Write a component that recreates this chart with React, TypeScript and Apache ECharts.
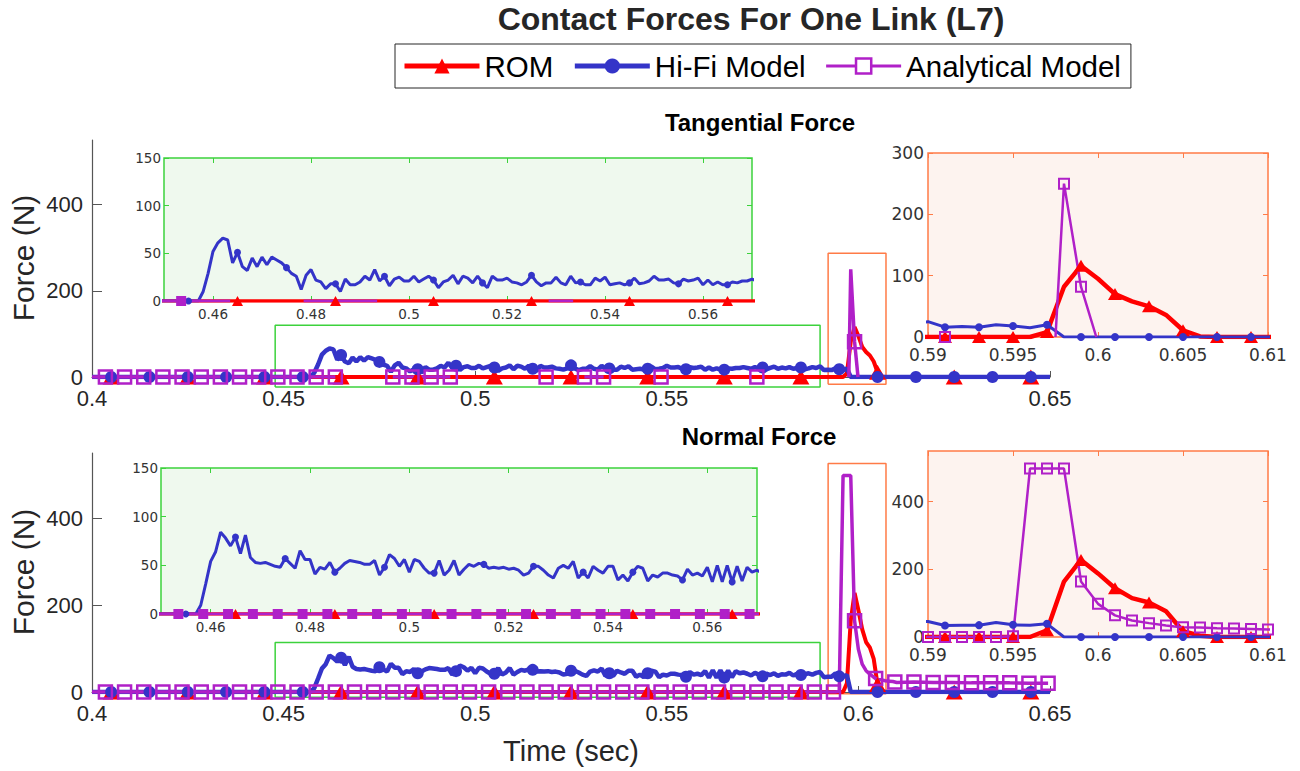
import React, { useEffect, useRef } from "react";
import * as echarts from "echarts";

// ---------- data ----------
// ROM and Hi-Fi samples: t = 0.400 ... 0.650 s every 1 ms (251 samples)
const T0 = 0.4;
const DT = 0.001;
const Z = (n: number): number[] => new Array(n).fill(0);

const HIFI_TAN: number[] = [
  ...Z(58), // 0.400 .. 0.457
  10, 29, 52, 61, 66, 64, 40, 51, 36, 32,
  45, 36, 46, 38, 46, 43, 40, 35, 29, 26,
  12, 27, 33, 22, 20, 13, 18, 18, 10, 23,
  17, 17, 20, 26, 22, 33, 21, 26, 16, 23,
  25, 21, 21, 26, 20, 23, 26, 22, 14, 20,
  22, 27, 18, 26, 24, 19, 26, 19, 14, 26,
  22, 22, 24, 20, 19, 17, 20, 27, 20, 16,
  19, 19, 25, 19, 17, 26, 19, 20, 17, 17,
  24, 21, 25, 17, 18, 19, 17, 19, 24, 18,
  19, 21, 26, 22, 22, 23, 19, 18, 23, 21,
  22, 24, 17, 22, 17, 20, 17, 17, 20, 19,
  21, 21, 23, // .. 0.570
  21, 19, 23, 20, 22, 18, 21, 24, 19, 22, 20, 23, 19, 21, 22, 18, 20, 23, 21, // 0.571 .. 0.589
  25, 16, 17, 16, 20, 18, 15, 20, // 0.590 .. 0.597
  ...Z(53), // 0.598 .. 0.650
];

const HIFI_NOR: number[] = [
  ...Z(58),
  9, 31, 54, 64, 84, 78, 70, 79, 62, 81,
  58, 53, 52, 53, 51, 49, 48, 57, 52, 47,
  65, 56, 56, 41, 48, 46, 53, 43, 47, 52,
  55, 54, 53, 51, 51, 55, 40, 48, 61, 57,
  49, 56, 43, 56, 54, 47, 42, 42, 55, 40,
  45, 55, 40, 46, 51, 49, 52, 51, 47, 48,
  47, 48, 46, 47, 45, 40, 42, 49, 49, 45,
  40, 37, 47, 50, 47, 54, 37, 43, 37, 49,
  45, 42, 49, 49, 35, 40, 34, 43, 49, 47,
  34, 40, 38, 42, 42, 40, 39, 35, 46, 40,
  42, 39, 48, 33, 50, 33, 50, 33, 49, 34,
  48, 43, 45,
  42, 38, 44, 40, 36, 42, 39, 43, 37, 41, 40, 44, 38, 42, 39, 41, 43, 40, 44,
  46, 34, 35, 35, 43, 36, 35, 39,
  ...Z(53),
];

const ROM_TAN: number[] = [...Z(197), 8, 82, 116, 95, 70, 58, 50, 36, 11, 1, ...Z(44)];
const ROM_NOR: number[] = [...Z(197), 20, 164, 228, 188, 144, 115, 102, 76, 17, 4, ...Z(44)];

// Analytical model (irregular time stamps, null = no line)
const ANA_TAN_T = [
  0.4, 0.4035, 0.4085, 0.4135, 0.4185, 0.4235, 0.4285, 0.4335, 0.4385, 0.4435, 0.4485, 0.4535, 0.4585, 0.4635,
  0.47, 0.4785, 0.4835, 0.4885, 0.4935, 0.505, 0.5185, 0.523, 0.5285, 0.5335, 0.54, 0.5485, 0.56, 0.5735, 0.58,
  0.591, 0.595, 0.5975, 0.598, 0.599, 0.5999,
];
const ANA_TAN_V: (number | null)[] = [
  0, 0, 0, 0, 0, 0, 0, 0, 0, 0, 0, 0, 0, 0,
  null, 0, 0, 0, 0, null, 0, null, 0, 0, null, 0, null, 0, null,
  0, null, 0, 250, 82, 0,
];

const ANA_NOR_T = [
  0.4, 0.4035, 0.4085, 0.4135, 0.4185, 0.4235, 0.4285, 0.4335, 0.4385, 0.4435, 0.4485, 0.4535, 0.4585,
  0.4635, 0.4685, 0.4735, 0.4785, 0.4835, 0.4885, 0.4935, 0.4985, 0.5035, 0.5085, 0.5135, 0.5185, 0.5235,
  0.5285, 0.5335, 0.5385, 0.5435, 0.5485, 0.5535, 0.5585, 0.5635, 0.5685, 0.5735, 0.5785, 0.5835, 0.5885,
  0.59, 0.591, 0.592, 0.593, 0.5935, 0.594, 0.595, 0.596, 0.597, 0.598, 0.599, 0.6, 0.601, 0.602, 0.603,
  0.604, 0.6045, 0.605, 0.606, 0.607, 0.608, 0.609, 0.6095, 0.61,
  0.6145, 0.6195, 0.6245, 0.6295, 0.6345, 0.6395, 0.6445, 0.6495,
];
const ANA_NOR_V: number[] = [
  ...Z(39),
  0, 0, 0, 0, 0, 0, 2, 498, 498, 498, 164, 98, 64, 49, 41,
  34, 31, 29, 28, 26, 25, 24, 23, 22,
  23, 22, 22, 21, 21, 21, 20, 20,
];

// ticks
const X_MAIN_TICKS = [0.4, 0.45, 0.5, 0.55, 0.6, 0.65];
const Y_MAIN_TICKS = [0, 200, 400];
const X_ZA_TICKS = [0.46, 0.48, 0.5, 0.52, 0.54, 0.56];
const Y_ZA_TICKS = [0, 50, 100, 150];
const X_ZB_TICKS = [0.59, 0.595, 0.6, 0.605, 0.61];
const Y_ZB_TAN_TICKS = [0, 100, 200, 300];
const Y_ZB_NOR_TICKS = [0, 200, 400];

// zoom-window outlines drawn on the main axes (data coordinates)
const RECT_TAN_A = [[0.4478, -23], [0.59, -23], [0.59, 120], [0.4478, 120], [0.4478, -23]];
const RECT_TAN_B = [[0.5921, -17], [0.6072, -17], [0.6072, 287], [0.5921, 287], [0.5921, -17]];
const RECT_NOR_A = [[0.4478, -12], [0.59, -12], [0.59, 114], [0.4478, 114], [0.4478, -12]];
const RECT_NOR_B = [[0.5921, -4], [0.6072, -4], [0.6072, 526], [0.5921, 526], [0.5921, -4]];

// ---------- styling ----------
const RED = "#ff0000";
const BLUE = "#3434c8";
const PURPLE = "#b020c8";
const GREEN = "#3cd23c";
const GREEN_BG = "#eff9ee";
const ORANGE = "#ff7b47";
const ORANGE_BG = "#fdf3ef";
const TXT = "#262626";
const AXIS = "#555555";
const FONT = '"Liberation Sans", Arial, Helvetica, sans-serif';
const FONT_IN = '"DejaVu Sans", Verdana, sans-serif';

const key = (t: number) => Math.round(t * 10000);
const gridT = (n: number) => Array.from({ length: n }, (_, i) => Math.round((T0 + i * DT) * 1000) / 1000);
const fmt = (v: number) => String(+Number(v).toFixed(4));

type Mark = (k: number) => boolean;
function pts(ts: number[], vs: (number | null)[], mark: Mark) {
  return ts.map((t, i) => {
    const v = vs[i];
    if (v === null || v === undefined) return { value: [t, "-"], symbol: "none" };
    return mark(key(t)) ? { value: [t, v] } : { value: [t, v], symbol: "none" };
  });
}

const romMarkMain: Mark = (k) => k % 200 === 50;
const hifiMarkMain: Mark = (k) => k % 100 === 50;
const oddMs: Mark = (k) => k % 20 === 10;
const anaTanMain: Mark = (k) => k % 50 === 35 || k === 5990;
const anaTanA: Mark = (k) => k === 4535;
const anaTanB: Mark = (k) => k === 5910 || k === 5980 || k === 5990;
const anaNorMain: Mark = (k) => k % 50 === 35 || k === 5990 || (k > 6000 && k % 50 === 45);
const anaNorA: Mark = (k) => k % 50 === 35;
const anaNorB: Mark = (k) => k % 10 === 0;

type Sty = { rom: [number, any]; hifi: [number, number]; ana: [number, number, number, string] };
const CLEAR = "rgba(255,255,255,0)";
const ST_MAIN: Sty = { rom: [4, [17, 15]], hifi: [4.5, 12], ana: [3.5, 13, 2.5, CLEAR] };
const ST_A: Sty = { rom: [3.5, [11, 10]], hifi: [3, 7], ana: [3, 8, 2, PURPLE] };
const ST_B: Sty = { rom: [4.5, [14, 12]], hifi: [3, 8], ana: [2.5, 10, 2, CLEAR] };

function trio(grid: number, st: Sty, rom: number[], hifi: number[], anaT: number[], anaV: (number | null)[],
  mRom: Mark, mHifi: Mark, mAna: Mark) {
  const gt = gridT(rom.length);
  const base = { type: "line", xAxisIndex: grid, yAxisIndex: grid, silent: true, showSymbol: true, showAllSymbol: true, z: 3, animation: false };
  return [
    { ...base, name: "ROM", data: pts(gt, rom, mRom), symbol: "triangle", symbolSize: st.rom[1],
      lineStyle: { color: RED, width: st.rom[0] }, itemStyle: { color: RED } },
    { ...base, name: "Hi-Fi Model", data: pts(gt, hifi, mHifi), symbol: "circle", symbolSize: st.hifi[1],
      lineStyle: { color: BLUE, width: st.hifi[0] }, itemStyle: { color: BLUE } },
    { ...base, name: "Analytical Model", data: pts(anaT, anaV, mAna), symbol: "rect", symbolSize: st.ana[1],
      lineStyle: { color: PURPLE, width: st.ana[0] },
      itemStyle: { color: st.ana[3], borderColor: PURPLE, borderWidth: st.ana[2] } },
  ];
}

function rectSeries(grid: number, data: number[][], color: string) {
  return { type: "line", name: "zoom-window", xAxisIndex: grid, yAxisIndex: grid, data, clip: false, symbol: "none",
    silent: true, z: 2, lineStyle: { color, width: 1.5 } };
}

function xAx(grid: number, min: number, max: number, ticks: number[], o: any) {
  return {
    type: "value", gridIndex: grid, min, max, position: o.position || "bottom",
    axisLine: { show: !!o.line, onZero: false, lineStyle: { color: AXIS, width: 1.2 } },
    axisTick: { show: true, inside: true, length: o.tickLen ?? 6, customValues: ticks, lineStyle: { color: o.tickColor || AXIS, width: 1 } },
    axisLabel: { show: o.label !== false, customValues: ticks, fontSize: o.fs, fontFamily: o.ff, color: o.lc || TXT, margin: o.xmargin ?? 8, formatter: fmt, hideOverlap: false },
    splitLine: { show: false },
  };
}
function yAx(grid: number, min: number, max: number, ticks: number[], o: any) {
  return {
    type: "value", gridIndex: grid, min, max, position: o.position || "left",
    axisLine: { show: !!o.line, onZero: false, lineStyle: { color: AXIS, width: 1.2 } },
    axisTick: { show: true, inside: true, length: o.tickLen ?? 6, customValues: ticks, lineStyle: { color: o.tickColor || AXIS, width: 1 } },
    axisLabel: { show: o.label !== false, customValues: ticks, fontSize: o.fs, fontFamily: o.ff, color: o.lc || TXT, margin: o.ymargin ?? 8, formatter: fmt, hideOverlap: false },
    splitLine: { show: false },
  };
}

export default function App() {
  const ref = useRef<HTMLDivElement>(null);
  useEffect(() => {
    document.body.style.margin = "0";
    const chart = echarts.init(ref.current!, undefined, { renderer: "svg" });
    const insetA = { fs: 13.5, ff: FONT_IN, lc: "#333", tickColor: GREEN, tickLen: 5, xmargin: 6, ymargin: 3 };
    const insetB = { fs: 17, ff: FONT_IN, lc: "#333", tickColor: ORANGE, tickLen: 5, xmargin: 9, ymargin: 4 };
    const main = { fs: 22, ff: FONT, line: true, xmargin: 10, ymargin: 9 };

    const option: any = {
      animation: false,
      backgroundColor: "#ffffff",
      grid: [
        { left: 92, top: 140, width: 958, height: 237, show: false, outerBoundsMode: "none" },
        { left: 92, top: 453, width: 958, height: 239, show: false, outerBoundsMode: "none" },
        { left: 164, top: 158, width: 588, height: 143, show: true, backgroundColor: GREEN_BG, borderColor: GREEN, borderWidth: 1.5, outerBoundsMode: "none" },
        { left: 928, top: 153, width: 340, height: 184, show: true, backgroundColor: ORANGE_BG, borderColor: ORANGE, borderWidth: 1.5, outerBoundsMode: "none" },
        { left: 161, top: 468, width: 596, height: 146, show: true, backgroundColor: GREEN_BG, borderColor: GREEN, borderWidth: 1.5, outerBoundsMode: "none" },
        { left: 928, top: 451, width: 340, height: 186, show: true, backgroundColor: ORANGE_BG, borderColor: ORANGE, borderWidth: 1.5, outerBoundsMode: "none" },
      ],
      xAxis: [
        xAx(0, 0.4, 0.65, X_MAIN_TICKS, main),
        xAx(1, 0.4, 0.65, X_MAIN_TICKS, main),
        xAx(2, 0.45, 0.57, X_ZA_TICKS, insetA),
        xAx(3, 0.59, 0.61, X_ZB_TICKS, insetB),
        xAx(4, 0.45, 0.57, X_ZA_TICKS, insetA),
        xAx(5, 0.59, 0.61, X_ZB_TICKS, insetB),
        xAx(2, 0.45, 0.57, X_ZA_TICKS, { ...insetA, label: false, position: "top" }),
        xAx(3, 0.59, 0.61, X_ZB_TICKS, { ...insetB, label: false, position: "top" }),
        xAx(4, 0.45, 0.57, X_ZA_TICKS, { ...insetA, label: false, position: "top" }),
        xAx(5, 0.59, 0.61, X_ZB_TICKS, { ...insetB, label: false, position: "top" }),
      ],
      yAxis: [
        yAx(0, 0, 550, Y_MAIN_TICKS, { ...main, tickLen: 10 }),
        yAx(1, 0, 550, Y_MAIN_TICKS, { ...main, tickLen: 10 }),
        yAx(2, 0, 150, Y_ZA_TICKS, insetA),
        yAx(3, 0, 300, Y_ZB_TAN_TICKS, insetB),
        yAx(4, 0, 150, Y_ZA_TICKS, insetA),
        yAx(5, 0, 550, Y_ZB_NOR_TICKS, insetB),
        yAx(2, 0, 150, Y_ZA_TICKS, { ...insetA, label: false, position: "right" }),
        yAx(3, 0, 300, Y_ZB_TAN_TICKS, { ...insetB, label: false, position: "right" }),
        yAx(4, 0, 150, Y_ZA_TICKS, { ...insetA, label: false, position: "right" }),
        yAx(5, 0, 550, Y_ZB_NOR_TICKS, { ...insetB, label: false, position: "right" }),
      ],
      legend: {
        show: true, left: 395, top: 44, orient: "horizontal", selectedMode: false,
        data: [
          { name: "ROM", lineStyle: { width: 5, color: RED }, itemStyle: { color: RED } },
          { name: "Hi-Fi Model", lineStyle: { width: 5, color: BLUE }, itemStyle: { color: BLUE } },
          { name: "Analytical Model", lineStyle: { width: 3, color: PURPLE }, itemStyle: { color: "#fff", borderColor: PURPLE, borderWidth: 2.5 } },
        ],
        itemWidth: 75, itemHeight: 19, itemGap: 19, padding: [7, 10, 7, 7],
        borderColor: TXT, borderWidth: 1, backgroundColor: "#fff",
        textStyle: { fontSize: 29.5, fontFamily: FONT, color: "#000" },
      },
      series: [
        ...trio(0, ST_MAIN, ROM_TAN, HIFI_TAN, ANA_TAN_T, ANA_TAN_V, romMarkMain, hifiMarkMain, anaTanMain),
        ...trio(1, ST_MAIN, ROM_NOR, HIFI_NOR, ANA_NOR_T, ANA_NOR_V, romMarkMain, hifiMarkMain, anaNorMain),
        ...trio(2, ST_A, ROM_TAN, HIFI_TAN, ANA_TAN_T, ANA_TAN_V, romMarkMain, hifiMarkMain, anaTanA),
        ...trio(3, ST_B, ROM_TAN, HIFI_TAN, ANA_TAN_T, ANA_TAN_V, oddMs, oddMs, anaTanB),
        ...trio(4, ST_A, ROM_NOR, HIFI_NOR, ANA_NOR_T, ANA_NOR_V, romMarkMain, hifiMarkMain, anaNorA),
        ...trio(5, ST_B, ROM_NOR, HIFI_NOR, ANA_NOR_T, ANA_NOR_V, oddMs, oddMs, anaNorB),
        rectSeries(0, RECT_TAN_A, GREEN),
        rectSeries(0, RECT_TAN_B, ORANGE),
        rectSeries(1, RECT_NOR_A, GREEN),
        rectSeries(1, RECT_NOR_B, ORANGE),
      ],
      graphic: [
        { type: "text", x: 751, y: 19, style: { text: "Contact Forces For One Link (L7)", fontSize: 32, fontWeight: "bold", fontFamily: FONT, fill: TXT, textAlign: "center", textVerticalAlign: "middle" } },
        { type: "text", x: 760, y: 122, style: { text: "Tangential Force", fontSize: 24, fontWeight: "bold", fontFamily: FONT, fill: "#000", textAlign: "center", textVerticalAlign: "middle" } },
        { type: "text", x: 759, y: 436, style: { text: "Normal Force", fontSize: 24, fontWeight: "bold", fontFamily: FONT, fill: "#000", textAlign: "center", textVerticalAlign: "middle" } },
        { type: "text", x: 23, y: 258, rotation: Math.PI / 2, style: { text: "Force (N)", fontSize: 30, fontFamily: FONT, fill: TXT, textAlign: "center", textVerticalAlign: "middle" } },
        { type: "text", x: 23, y: 572, rotation: Math.PI / 2, style: { text: "Force (N)", fontSize: 30, fontFamily: FONT, fill: TXT, textAlign: "center", textVerticalAlign: "middle" } },
        { type: "text", x: 571, y: 751, style: { text: "Time (sec)", fontSize: 29, fontFamily: FONT, fill: TXT, textAlign: "center", textVerticalAlign: "middle" } },
      ],
    };
    chart.setOption(option);
    return () => chart.dispose();
  }, []);
  return <div ref={ref} style={{ width: 1300, height: 771 }} />;
}
